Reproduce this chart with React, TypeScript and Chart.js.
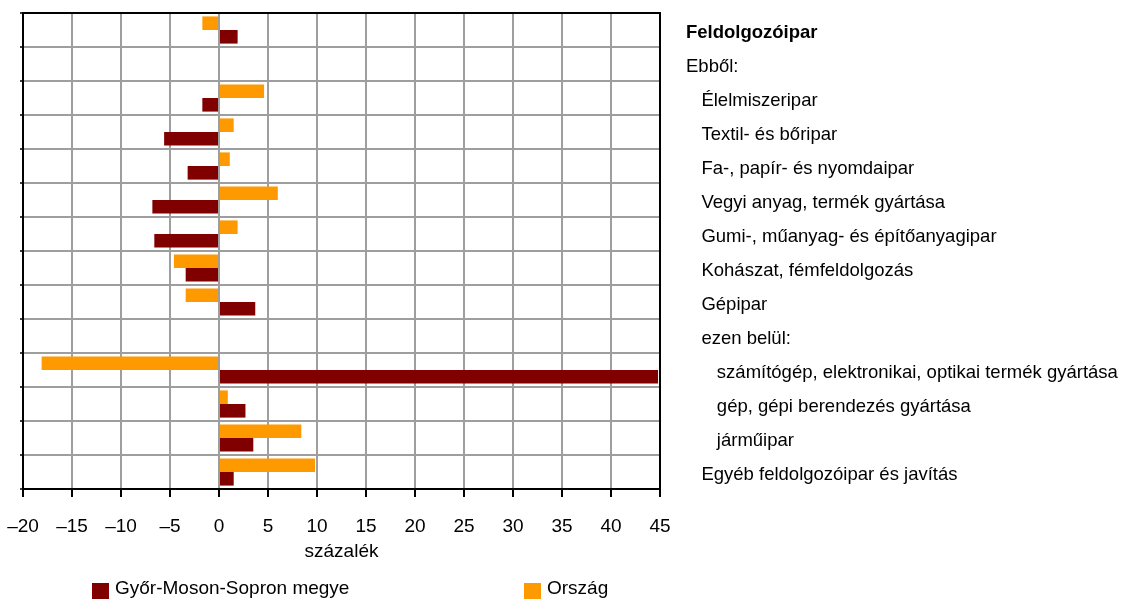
import React, { useEffect, useRef } from "react";
import { Chart, registerables } from "chart.js";

Chart.register(...registerables);

// ---- Data ----
const categories = [
  "Feldolgozóipar",
  "Ebből:",
  "Élelmiszeripar",
  "Textil- és bőripar",
  "Fa-, papír- és nyomdaipar",
  "Vegyi anyag, termék gyártása",
  "Gumi-, műanyag- és építőanyagipar",
  "Kohászat, fémfeldolgozás",
  "Gépipar",
  "ezen belül:",
  "számítógép, elektronikai, optikai termék gyártása",
  "gép, gépi berendezés gyártása",
  "járműipar",
  "Egyéb feldolgozóipar és javítás",
];
const indentLevels = [0, 0, 1, 1, 1, 1, 1, 1, 1, 1, 2, 2, 2, 1];
const boldRows = [0];

const orszagValues = [-1.7, null, 4.6, 1.5, 1.1, 6.0, 1.9, -4.6, -3.4, null, -18.1, 0.9, 8.4, 9.8];
const gyorValues = [1.9, null, -1.7, -5.6, -3.2, -6.8, -6.6, -3.4, 3.7, null, 44.8, 2.7, 3.5, 1.5];

const seriesNames = ["Győr-Moson-Sopron megye", "Ország"];
const seriesColors = ["#800000", "#FF9900"];

const xMin = -20;
const xMax = 45;
const xStep = 5;
const xTitle = "százalék";

const FONT = '"Liberation Sans", Arial, Helvetica, sans-serif';

const framePlugin = {
  id: "frame",
  beforeDatasetsDraw(chart: any) {
    const { ctx, chartArea: a } = chart;
    const y = chart.scales.y;
    ctx.save();
    ctx.strokeStyle = "#000";
    ctx.lineWidth = 2;
    ctx.strokeRect(a.left, a.top, a.right - a.left, a.bottom - a.top);
    ctx.lineWidth = 1.5;
    ctx.beginPath();
    for (let i = 0; i <= categories.length; i++) {
      const py = y.getPixelForValue(i - 0.5);
      ctx.moveTo(a.left - 3, py);
      ctx.lineTo(a.left, py);
    }
    ctx.stroke();
    ctx.restore();
  },
};

export default function App() {
  const canvasRef = useRef<HTMLCanvasElement | null>(null);

  useEffect(() => {
    const canvas = canvasRef.current;
    if (!canvas) return;
    Chart.defaults.color = "#000";
    Chart.defaults.font.family = FONT;
    const chart = new Chart(canvas, {
      type: "bar",
      data: {
        labels: categories,
        datasets: [
          {
            label: seriesNames[1],
            data: orszagValues,
            backgroundColor: seriesColors[1],
            borderWidth: 0,
            categoryPercentage: 0.8,
            barPercentage: 1,
          },
          {
            label: seriesNames[0],
            data: gyorValues,
            backgroundColor: seriesColors[0],
            borderWidth: 0,
            categoryPercentage: 0.8,
            barPercentage: 1,
          },
        ],
      },
      options: {
        indexAxis: "y",
        animation: false,
        responsive: false,
        maintainAspectRatio: false,
        layout: { padding: { left: 23, top: 13, right: 0, bottom: 36 } },
        plugins: {
          legend: { display: false },
          tooltip: { enabled: false },
          title: { display: false },
        },
        scales: {
          x: {
            type: "linear",
            position: "bottom",
            min: xMin,
            max: xMax,
            ticks: {
              stepSize: xStep,
              padding: 18,
              color: "#000",
              font: { family: FONT, size: 19 },
              callback: (v: any) => (Number(v) < 0 ? "\u2013" + Math.abs(Number(v)) : String(v)),
            },
            grid: {
              color: "#9e9e9e",
              lineWidth: 2,
              drawTicks: true,
              tickLength: 8,
              tickColor: "#000",
              tickWidth: 2,
            },
            border: { display: true, color: "#000", width: 2 },
            title: {
              display: true,
              text: xTitle,
              color: "#000",
              font: { family: FONT, size: 19 },
              padding: { top: 0, bottom: 0 },
            },
            afterFit: (scale: any) => {
              scale.height = 74;
              scale.paddingLeft = 0;
              scale.paddingRight = 0;
            },
          },
          y: {
            type: "category",
            position: "right",
            offset: true,
            ticks: {
              padding: 26,
              crossAlign: "near",
              labelOffset: 3,
              color: "#000",
              autoSkip: false,
              font: (ctx: any) => ({
                family: FONT,
                size: 18.5,
                weight: boldRows.includes(ctx.index) ? "bold" : "normal",
              }),
              callback: (_v: any, i: number) => "   ".repeat(indentLevels[i]) + categories[i],
            },
            grid: {
              color: "#9e9e9e",
              lineWidth: 2,
              drawTicks: false,
              offset: true,
            },
            border: { display: true, color: "#000", width: 2 },
            afterFit: (scale: any) => {
              scale.width = 465;
              scale.paddingTop = 0;
              scale.paddingBottom = 0;
            },
          },
        },
      },
      plugins: [framePlugin],
    } as any);
    return () => chart.destroy();
  }, []);

  const legendItems = [
    { name: seriesNames[0], color: seriesColors[0], left: 92 },
    { name: seriesNames[1], color: seriesColors[1], left: 524 },
  ];

  return (
    <div
      style={{
        position: "fixed",
        left: 0,
        top: 0,
        width: 1125,
        height: 599,
        background: "#fff",
        overflow: "hidden",
      }}
    >
      <canvas ref={canvasRef} width={1125} height={599} style={{ display: "block" }} />
      {legendItems.map((it) => (
        <div
          key={it.name}
          style={{
            position: "absolute",
            left: it.left,
            top: 577,
            display: "flex",
            alignItems: "flex-start",
            fontFamily: FONT,
            fontSize: 19,
            lineHeight: "normal",
            color: "#000",
            whiteSpace: "nowrap",
          }}
        >
          <span
            style={{
              display: "inline-block",
              width: 17,
              height: 17,
              marginTop: 6,
              marginRight: 6,
              background: it.color,
            }}
          />
          <span>{it.name}</span>
        </div>
      ))}
    </div>
  );
}
